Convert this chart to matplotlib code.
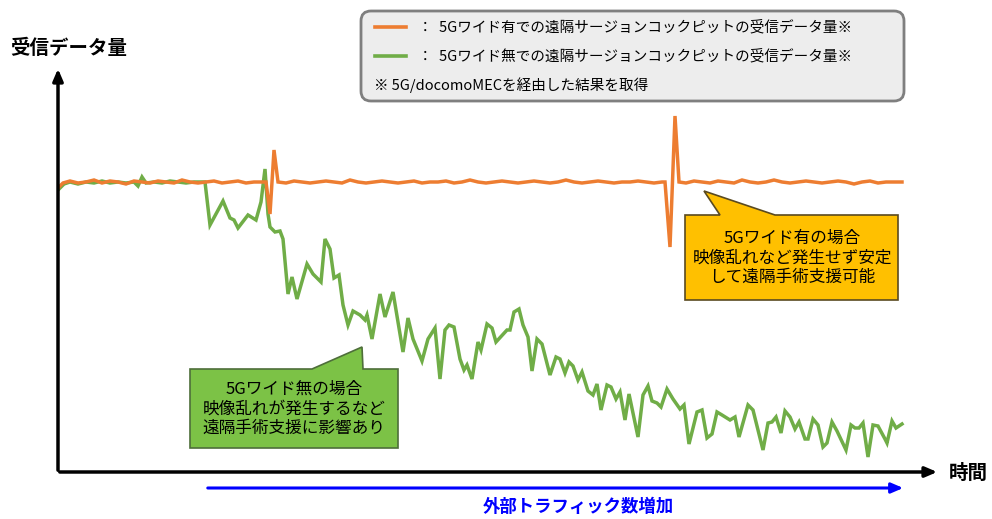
import numpy as np
import matplotlib.pyplot as plt
from matplotlib.patches import Polygon, FancyBboxPatch

plt.rcParams['font.family'] = ['Noto Sans CJK JP', 'DejaVu Sans']

# time (arbitrary units) and received data amount (arbitrary units)
orange_t = [0, 5, 12, 20, 28, 36, 44, 52, 60, 68, 76, 84, 92, 100, 108, 116, 124, 132,
            140, 148, 156, 164, 172, 180, 188, 196, 204, 208, 212, 216, 220,
            228, 236, 244, 252, 260, 268, 276, 284, 292, 300, 308, 316, 324, 332, 340,
            348, 356, 364, 372, 380, 388, 396, 404, 412, 420, 428, 436, 444, 452, 460,
            468, 476, 484, 492, 500, 508, 516, 524, 532, 540, 548, 556, 564, 572, 580,
            588, 596, 604, 607, 612, 617, 621, 628, 636, 644, 652, 660, 668, 676, 684,
            692, 700, 708, 716, 724, 732, 740, 748, 756, 764, 772, 780, 788, 796, 804,
            812, 820, 828, 836, 844]
orange_v = [284, 289, 291, 289, 290, 292, 289, 291, 290, 288, 291, 290, 289, 291, 290, 289, 292, 290,
            289, 290, 291, 289, 290, 291, 289, 290, 290, 290, 258, 322, 290,
            289, 291, 290, 289, 290, 291, 290, 289, 292, 290, 289, 290, 291, 290, 289,
            290, 291, 289, 290, 290, 291, 289, 290, 292, 290, 289, 290, 291, 290, 289,
            290, 291, 290, 289, 290, 292, 290, 289, 290, 291, 290, 289, 290, 290, 291,
            290, 289, 290, 290, 225, 356, 290, 289, 291, 290, 289, 291, 290, 289, 292,
            290, 289, 290, 292, 290, 289, 290, 291, 290, 289, 290, 291, 290, 288, 290,
            291, 289, 290, 290, 290]

green_t = [0, 6, 12, 20, 28, 36, 44, 52, 60, 68, 76, 80, 84, 88, 96, 104, 112, 120, 128, 136, 147,
           152, 165, 172, 176, 180, 190, 198, 203, 207, 210, 212, 217, 222, 225, 230, 234, 239,
           249, 255, 263, 267, 272, 276, 281, 285, 290, 295, 302, 307, 309, 314, 322, 327, 335,
           345, 350, 355, 364, 370, 377, 382, 387, 391, 396, 402, 406, 409, 414, 420, 423, 429,
           434, 438, 449, 452, 456, 461, 465, 470, 474, 479, 484, 492, 498, 502, 507, 511, 515,
           520, 524, 530, 535, 539, 543, 549, 553, 558, 562, 567, 571, 580, 585, 590, 594, 599,
           603, 609, 615, 622, 626, 631, 639, 644, 649, 654, 659, 664, 672, 677, 681, 690, 695,
           705, 710, 714, 718, 723, 727, 732, 737, 741, 747, 750, 755, 760, 765, 769, 774, 779,
           788, 793, 797, 801, 805, 810, 815, 820, 827, 829, 834, 838, 844]
green_v = [282, 288, 290, 288, 290, 289, 291, 289, 290, 289, 290, 286, 295, 289, 290, 289, 291, 290, 289, 290, 290,
           247, 271, 254, 252, 244, 257, 252, 270, 303, 258, 245, 240, 241, 233, 178, 195, 173,
           208, 198, 190, 233, 223, 194, 197, 167, 147, 161, 157, 152, 157, 133, 178, 155, 180,
           120, 154, 133, 111, 133, 144, 93, 142, 147, 145, 113, 102, 107, 93, 130, 122, 148,
           144, 130, 142, 142, 160, 163, 147, 135, 101, 133, 128, 97, 115, 113, 99, 110, 106,
           92, 100, 81, 77, 88, 62, 87, 85, 73, 80, 52, 78, 35, 77, 86, 71, 69,
           65, 83, 73, 63, 67, 28, 60, 62, 34, 38, 60, 57, 52, 55, 35, 67, 62,
           22, 49, 50, 55, 39, 61, 55, 43, 50, 33, 33, 53, 47, 25, 29, 50, 41,
           22, 47, 44, 44, 49, 15, 47, 46, 33, 29, 51, 44, 48]

legend_labels = ['：  5Gワイド有での遠隔サージョンコックピットの受信データ量※',
                 '：  5Gワイド無での遠隔サージョンコックピットの受信データ量※']
legend_note = '※ 5G/docomoMECを経由した結果を取得'
note_green = '5Gワイド無の場合\n映像乱れが発生するなど\n遠隔手術支援に影響あり'
note_orange = '5Gワイド有の場合\n映像乱れなど発生せず安定\nして遠隔手術支援可能'

c_orange = '#ED7D31'
c_green = '#70AD47'

W, H = 992, 519
fig = plt.figure(figsize=(W / 100, H / 100), dpi=100)

# plot area
ax = fig.add_axes([58 / W, 1 - 472 / H, 877 / W, 404 / H])
ax.plot(green_t, green_v, color=c_green, lw=2.5, solid_joinstyle='miter')
ax.plot(orange_t, orange_v, color=c_orange, lw=2.5, solid_joinstyle='miter')
ax.set_xlim(0, 877)
ax.set_ylim(0, 404)
ax.axis('off')

# overlay in pixel units for the decorations
ov = fig.add_axes([0, 0, 1, 1], zorder=5)
ov.set_xlim(0, W)
ov.set_ylim(H, 0)
ov.axis('off')

# axes arrows
ov.annotate('', xy=(58, 66), xytext=(58, 473),
            arrowprops=dict(arrowstyle='-|>,head_length=0.7,head_width=0.3', color='black', lw=2.5))
ov.annotate('', xy=(940, 472), xytext=(57, 472),
            arrowprops=dict(arrowstyle='-|>,head_length=0.7,head_width=0.3', color='black', lw=2.5))
ov.text(10, 48, '受信データ量', fontsize=14, fontweight='bold', va='center', ha='left')
ov.text(949, 473, '時間', fontsize=14, fontweight='bold', va='center', ha='left')

# traffic arrow
ov.annotate('', xy=(906, 488), xytext=(205, 488),
            arrowprops=dict(arrowstyle='-|>,head_length=0.7,head_width=0.3', color='#0000FF', lw=2.2))
ov.text(578, 507, '外部トラフィック数増加', fontsize=12.5, fontweight='bold', color='#0000FF',
        va='center', ha='center')

# legend box
ov.add_patch(FancyBboxPatch((361, 11), 543, 90, boxstyle='round,pad=0,rounding_size=10',
                            fc='#EDEDED', ec='#7F7F7F', lw=2))
for y, c, lab in zip([27, 56], [c_orange, c_green], legend_labels):
    ov.plot([375, 406], [y, y], color=c, lw=2.6)
    ov.text(418, y, lab, fontsize=10.5, va='center', ha='left')
ov.text(374, 85, legend_note, fontsize=10.5, va='center', ha='left')

# callouts
green_shape = [(190, 369), (312, 369), (362, 347), (363, 369), (398, 369), (398, 448), (190, 448)]
ov.add_patch(Polygon(green_shape, closed=True, fc='#7CC246', ec='#4E6E3A', lw=1.2))
ov.text(294, 409, note_green, fontsize=12, ha='center', va='center', linespacing=1.2)

orange_shape = [(685, 215), (720, 215), (704, 191), (775, 215), (898, 215), (898, 300), (685, 300)]
ov.add_patch(Polygon(orange_shape, closed=True, fc='#FFC000', ec='#5A4A20', lw=1.2))
ov.text(792, 258, note_orange, fontsize=12, ha='center', va='center', linespacing=1.2)

fig.savefig('out.png', dpi=100)
